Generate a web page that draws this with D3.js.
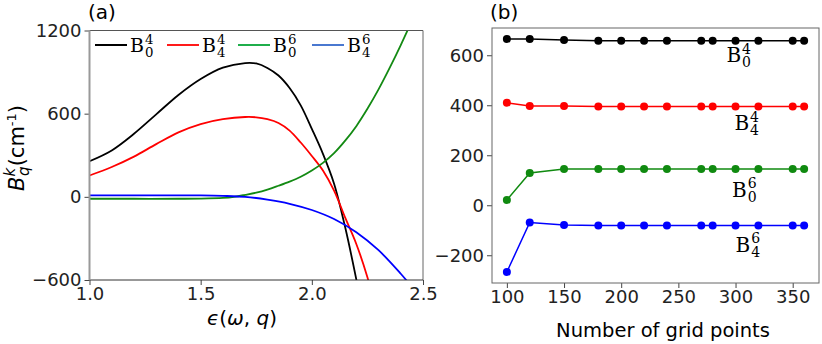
<!DOCTYPE html>
<html>
<head>
<meta charset="utf-8">
<script src="https://cdn.jsdelivr.net/npm/d3@7"></script>
<style>
  body { margin: 0; background: #fff; }
  svg text { font-family: "DejaVu Sans", sans-serif; }
</style>
</head>
<body>
<script>
// panel (a): crystal field parameters vs epsilon
var eps_black = [1.0, 1.1, 1.2, 1.3, 1.4, 1.5, 1.6, 1.7, 1.75, 1.8, 1.85, 1.9, 1.95, 2.0, 2.05, 2.1, 2.15, 2.2, 2.22];
var val_black = [257, 335, 455, 595, 735, 850, 932, 965, 962, 930, 875, 785, 660, 490, 310, 95, -220, -595, -760];
var eps_red = [1.0, 1.1, 1.2, 1.3, 1.4, 1.5, 1.6, 1.7, 1.75, 1.8, 1.85, 1.9, 1.95, 2.0, 2.05, 2.1, 2.15, 2.2, 2.25, 2.27];
var val_red = [154, 215, 290, 380, 465, 525, 560, 576, 574, 560, 533, 478, 392, 295, 190, 45, -150, -340, -580, -700];
var eps_green = [1.0, 1.2, 1.4, 1.5, 1.6, 1.65, 1.7, 1.75, 1.8, 1.85, 1.9, 1.95, 2.0, 2.05, 2.1, 2.15, 2.2, 2.25, 2.3, 2.35, 2.4, 2.45];
var val_green = [-14, -14, -14, -13, -8, 0, 14, 30, 52, 80, 110, 145, 190, 245, 315, 405, 510, 635, 775, 930, 1095, 1270];
var eps_blue = [1.0, 1.2, 1.4, 1.5, 1.6, 1.7, 1.8, 1.9, 2.0, 2.1, 2.2, 2.3, 2.4, 2.45];
var val_blue = [10, 11, 11, 10, 7, 0, -20, -50, -95, -160, -255, -385, -555, -650];

var xTicksA = [1.0, 1.5, 2.0, 2.5];
var yTicksA = [-600, 0, 600, 1200];

// panel (b): convergence vs number of grid points
var grid = [100, 120, 150, 180, 200, 220, 240, 270, 280, 300, 320, 350, 360];
var b40 = [665, 665, 661, 658, 658, 658, 658, 658, 658, 658, 658, 658, 658];
var b44 = [410, 397, 397, 395, 395, 395, 395, 395, 395, 395, 395, 395, 395];
var b60 = [21, 129, 145, 145, 145, 145, 145, 145, 145, 145, 145, 145, 145];
var b64 = [-267, -69, -79, -81, -81, -81, -81, -81, -81, -81, -81, -81, -81];

var xTicksB = [100, 150, 200, 250, 300, 350];
var yTicksB = [-200, 0, 200, 400, 600];

var names = [["0", "4"], ["4", "4"], ["0", "6"], ["4", "6"]];
var lineColors = ["#000000", "#ff0000", "#138a13", "#0000ff"];
var dotColors = ["#000000", "#ff0000", "#108a10", "#0000ff"];
var legendColors = ["#000000", "#ff1a1a", "#1fae4b", "#4a78d0"];
// where the labels sit in panel (b), in data units (baseline of the B)
var labelX = [292, 299, 297, 300];
var labelY = [573, 301, 34, -186];

var svg = d3.select("body").append("svg")
  .attr("width", 822)
  .attr("height", 344);

// B_sub^sup written in serif, one text element
function bLabel(g, x, y, sub, sup, size) {
  var small = size * 0.7;
  var t = g.append("text")
    .attr("x", x).attr("y", y)
    .style("font-family", "'DejaVu Serif', serif")
    .style("font-size", size + "px");
  t.append("tspan").text("B");
  var s = t.append("tspan")
    .attr("dx", 1)
    .attr("dy", -size * 0.42)
    .style("font-size", small + "px")
    .text(sup);
  var w = s.node().getComputedTextLength();
  t.append("tspan")
    .attr("dx", -w)
    .attr("dy", size * 0.67)
    .style("font-size", small + "px")
    .text(sub);
}

function styleAxis(ax) {
  ax.select(".domain").remove();
  ax.selectAll("text").style("font-size", "18px").attr("fill", "#222").style("font-family", "'DejaVu Sans', sans-serif");
  ax.selectAll("line").attr("stroke", "#444");
}

var minus = d => d < 0 ? "\u2212" + Math.abs(d) : d;

/* ---------- panel (a) ---------- */
var xa = d3.scaleLinear().domain([1.0, 2.5]).range([89.5, 423]);
var ya = d3.scaleLinear().domain([-600, 1200]).range([280, 30.5]);

svg.append("clipPath").attr("id", "clipA")
  .append("rect")
  .attr("x", xa(1.0)).attr("y", ya(1200))
  .attr("width", xa(2.5) - xa(1.0)).attr("height", ya(-600) - ya(1200));

var ga = svg.append("g");

var curveData = [
  d3.zip(eps_black, val_black),
  d3.zip(eps_red, val_red),
  d3.zip(eps_green, val_green),
  d3.zip(eps_blue, val_blue)
];

var lineA = d3.line()
  .x(d => xa(d[0]))
  .y(d => ya(d[1]))
  .curve(d3.curveCatmullRom.alpha(0.5));

ga.append("g").attr("clip-path", "url(#clipA)")
  .selectAll("path")
  .data(curveData)
  .enter().append("path")
  .attr("d", lineA)
  .attr("fill", "none")
  .attr("stroke", (d, i) => lineColors[i])
  .attr("stroke-width", 1.8);

var axBottomA = ga.append("g")
  .attr("transform", "translate(0," + ya(-600) + ")")
  .call(d3.axisBottom(xa).tickValues(xTicksA).tickFormat(d3.format(".1f")).tickSize(5).tickPadding(2));
var axLeftA = ga.append("g")
  .attr("transform", "translate(" + xa(1.0) + ",0)")
  .call(d3.axisLeft(ya).tickValues(yTicksA).tickFormat(minus).tickSize(5).tickPadding(3));
styleAxis(axBottomA);
styleAxis(axLeftA);

// frame
ga.append("line").attr("x1", xa(1.0)).attr("x2", xa(2.5)).attr("y1", ya(1200)).attr("y2", ya(1200)).attr("stroke", "#555");
ga.append("line").attr("x1", xa(2.5)).attr("x2", xa(2.5)).attr("y1", ya(1200)).attr("y2", ya(-600)).attr("stroke", "#666");
ga.append("line").attr("x1", xa(1.0)).attr("x2", xa(2.5)).attr("y1", ya(-600)).attr("y2", ya(-600)).attr("stroke", "#333");
ga.append("line").attr("x1", xa(1.0)).attr("x2", xa(1.0)).attr("y1", ya(1200)).attr("y2", ya(-600)).attr("stroke", "#999").attr("stroke-width", 2);

// legend
var legX = [95, 167, 238, 312];
names.forEach(function(n, i) {
  ga.append("line")
    .attr("x1", legX[i]).attr("x2", legX[i] + 32)
    .attr("y1", 45).attr("y2", 45)
    .attr("stroke", legendColors[i]).attr("stroke-width", 2);
  bLabel(ga, legX[i] + 35, 52, n[0], n[1], 19);
});

ga.append("text").attr("x", 88).attr("y", 19).style("font-size", "20px").text("(a)");

// axis labels
var xl = ga.append("text")
  .attr("x", 242).attr("y", 325)
  .attr("text-anchor", "middle")
  .style("font-size", "20px");
xl.append("tspan").style("font-style", "italic").text("\u03f5");
xl.append("tspan").text("(");
xl.append("tspan").style("font-style", "italic").text("\u03c9");
xl.append("tspan").text(", ");
xl.append("tspan").style("font-style", "italic").text("q");
xl.append("tspan").text(")");

var yl = ga.append("text")
  .attr("transform", "translate(24,148) rotate(-90)")
  .attr("text-anchor", "middle")
  .style("font-size", "21px");
yl.append("tspan").style("font-style", "italic").text("B");
yl.append("tspan").style("font-style", "italic").style("font-size", "15px").attr("dy", -9).text("k");
yl.append("tspan").style("font-style", "italic").style("font-size", "15px").attr("dx", -8).attr("dy", 14).text("q");
yl.append("tspan").attr("dy", -5).text("(cm");
yl.append("tspan").style("font-size", "13px").attr("dy", -8).text("-1");
yl.append("tspan").attr("dy", 8).text(")");

/* ---------- panel (b) ---------- */
var xb = d3.scaleLinear().domain([87, 373]).range([492, 819]);
var yb = d3.scaleLinear().domain([-311, 709]).range([283, 28]);

var gb = svg.append("g");

var seriesB = [b40, b44, b60, b64];

var lineB = d3.line()
  .x((d, i) => xb(grid[i]))
  .y(d => yb(d));

seriesB.forEach(function(s, k) {
  gb.append("path")
    .attr("d", lineB(s))
    .attr("fill", "none")
    .attr("stroke", dotColors[k])
    .attr("stroke-width", 1.5);
  gb.selectAll(".dot" + k)
    .data(s)
    .enter().append("circle")
    .attr("cx", (d, i) => xb(grid[i]))
    .attr("cy", d => yb(d))
    .attr("r", 4)
    .attr("fill", dotColors[k]);
});

var axBottomB = gb.append("g")
  .attr("transform", "translate(0," + yb(-311) + ")")
  .call(d3.axisBottom(xb).tickValues(xTicksB).tickSize(5).tickPadding(2));
var axLeftB = gb.append("g")
  .attr("transform", "translate(" + xb(87) + ",0)")
  .call(d3.axisLeft(yb).tickValues(yTicksB).tickFormat(minus).tickSize(5).tickPadding(3));
styleAxis(axBottomB);
styleAxis(axLeftB);

gb.append("rect")
  .attr("x", xb(87)).attr("y", yb(709))
  .attr("width", xb(373) - xb(87)).attr("height", yb(-311) - yb(709))
  .attr("fill", "none").attr("stroke", "#666");

names.forEach(function(n, i) {
  bLabel(gb, xb(labelX[i]), yb(labelY[i]), n[0], n[1], 20);
});

gb.append("text").attr("x", 490).attr("y", 19).style("font-size", "20px").text("(b)");

gb.append("text")
  .attr("x", 663).attr("y", 337)
  .attr("text-anchor", "middle")
  .style("font-size", "19.5px")
  .text("Number of grid points");
</script>
</body>
</html>
